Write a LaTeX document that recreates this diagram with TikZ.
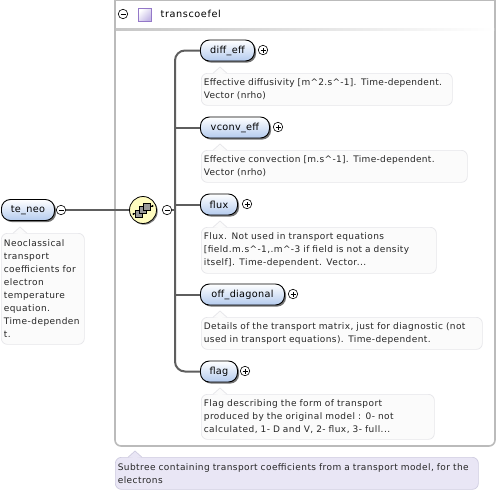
\documentclass[tikz,border=0pt]{standalone}
\usepackage{fontspec}
\setmainfont{DejaVu Sans}[LetterSpace=3]
\usetikzlibrary{shadows,calc}
\definecolor{docline}{HTML}{E6E6EA}
\definecolor{docfill}{HTML}{FBFBFB}
\definecolor{conn}{HTML}{5E5E5E}
\definecolor{frame}{HTML}{BBBBBB}
\definecolor{elemblue}{HTML}{B4CBEE}
\definecolor{purpledoc}{HTML}{E9E6F5}
\definecolor{purpleline}{HTML}{CFCCE0}
\definecolor{sqline}{HTML}{9478C8}
\definecolor{sqfill}{HTML}{C4B8E6}
\newcommand{\lsp}[1]{\addfontfeature{LetterSpace=#1}}
\tikzset{
  x=1pt,y=-1pt,
  elem/.style={draw=black,line width=.9pt,rounded corners=9pt,top color=white,bottom color=elemblue,
    minimum height=21pt,inner sep=0pt,anchor=west,font=\fontsize{9.7}{11}\selectfont,
    drop shadow={shadow xshift=1.6pt,shadow yshift=-1.6pt,fill=black,opacity=.55}},
  docbox/.style={draw=docline,line width=.7pt,fill=docfill,rounded corners=6pt,anchor=north west,
    inner xsep=2.5pt,inner ysep=3pt,align=left,text=black!85,
    font=\fontsize{9}{13}\selectfont},
  notch/.style={draw=docline,line width=.7pt,fill=docfill},
  connline/.style={draw=conn,line width=2pt},
  tog/.style={circle,draw=black,fill=white,line width=.6pt,minimum size=9.5pt,inner sep=0pt},
  bar/.style={draw=black,line width=.7pt},
  seqsq/.style={draw=black,line width=.6pt,fill=black!40,minimum size=7pt,inner sep=0pt},
}
\newcommand{\minusmark}[1]{\draw[bar] ([xshift=-2.5pt]#1.center) -- ([xshift=2.5pt]#1.center);}
\newcommand{\plusmark}[1]{\draw[bar] ([xshift=-2.5pt]#1.center) -- ([xshift=2.5pt]#1.center);\draw[bar] ([yshift=-2.5pt]#1.center) -- ([yshift=2.5pt]#1.center);}
\newcommand{\docnotch}[2]{\fill[docfill] ($(#1.north west)+(#2+7,0)$) -- ++(-7,0.8) -- ++(14,0) -- cycle;
  \draw[notch,fill=docfill] ($(#1.north west)+(#2,0.3)$) -- ++(7,-6.3) -- ++(7,6.3);}
\begin{document}
\begin{tikzpicture}
\useasboundingbox (0,0) rectangle (497,493);
\fill[white] (0,0) rectangle (497,493);
% frame
\draw[frame,line width=1.6pt,rounded corners=6pt] (115,-5) -- (115,446) -- (495,446) -- (495,-5);
\draw[frame,line width=1.6pt] (115,0.3) -- (495,0.3);
\shade[left color=black!22,right color=white] (116,28) rectangle (494,30.5);
\node[tog] (tcm) at (123,14) {};
\minusmark{tcm}
\node[draw=sqline,line width=.8pt,left color=white,right color=sqfill,shading angle=45,minimum size=12.5pt,inner sep=0pt,anchor=north west] (tcs) at (138,8) {};
\node[anchor=west,inner sep=0pt,font=\fontsize{9.7}{11}\selectfont] (tct) at (160.5,14) {\lsp{6}transcoefel};
% nodes
\node[elem,minimum width=53pt] (teneo) at (1,210) {te\_neo};
\node[tog] (tenm) at (61,210) {};
\minusmark{tenm}
\node[circle,draw=black,line width=.8pt,fill=yellow!25!white,minimum size=27pt,inner sep=0pt,drop shadow={shadow xshift=1.2pt,shadow yshift=-1.2pt,fill=black,opacity=.5}] (seq) at (143,210) {};
\node[tog] (seqm) at (167,210) {};
\minusmark{seqm}
\coordinate (tt) at (175,210);
\node[elem,minimum width=54pt] (diff) at (200,50.5) {diff\_eff};
\node[elem,minimum width=69pt] (vconv) at (200,127.5) {vconv\_eff};
\node[elem,minimum width=37pt] (flux) at (200,204.5) {flux};
\node[elem,minimum width=84pt] (off) at (200,294.5) {off\_diagonal};
\node[elem,minimum width=37pt] (flag) at (200,371.5) {flag};
\node[tog] (dp) at (263,50) {}; \plusmark{dp}
\node[tog] (vp) at (278,127) {}; \plusmark{vp}
\node[tog] (fp) at (247,204) {}; \plusmark{fp}
\node[tog] (op) at (293,294) {}; \plusmark{op}
\node[tog] (gp) at (245,371) {}; \plusmark{gp}
% connectors
\draw[connline] (tenm) -- (seq);
\draw[connline] (seqm) -- (tt);
\draw[connline,rounded corners=10pt] (diff.west) -| (tt) |- (flag.west);
\draw[connline] (vconv.west) -- (vconv.west -| tt);
\draw[connline] (flux.west) -- (flux.west -| tt);
\draw[connline] (off.west) -- (off.west -| tt);
% sequence icon
\begin{scope}[shift={(seq.center)}]
  \draw[black,line width=.8pt] (-9.5,4) -- (9.5,-4);
  \fill[black] (-9.5,4) circle (1.2) (9.5,-4) circle (1.2);
  \node[seqsq] (sa) at (-4,4) {};
  \node[seqsq] (sb) at (-0.5,0) {};
  \node[seqsq] (sc) at (3.5,-3.5) {};
\end{scope}
% docs
\node[docbox,text width=78pt,minimum height=111pt] (d0) at (1,233) {\lsp{5}Neoclassical\\transport\\coefficients for\\electron\\temperature\\equation.\\Time-dependen\\t.};
\docnotch{d0}{12}
\node[docbox,text width=246pt,minimum height=32pt] (d1) at (201,73) {\lsp{3.2}Effective diffusivity [m\textasciicircum 2.s\textasciicircum -1]. Time-dependent.\\Vector (nrho)};
\docnotch{d1}{12}
\node[docbox,text width=261pt,minimum height=32pt] (d2) at (201,150) {\lsp{3.6}Effective convection [m.s\textasciicircum -1]. Time-dependent.\\Vector (nrho)};
\docnotch{d2}{12}
\node[docbox,text width=230pt,minimum height=46pt] (d3) at (201,227) {\lsp{4.5}Flux. Not used in transport equations\\{}[field.m.s\textasciicircum -1,.m\textasciicircum -3 if field is not a density\\itself]. Time-dependent. Vector...};
\docnotch{d3}{12}
\node[docbox,text width=276pt,minimum height=32pt] (d4) at (201,317) {\lsp{4.4}Details of the transport matrix, just for diagnostic (not\\used in transport equations). Time-dependent.};
\docnotch{d4}{12}
\node[docbox,text width=228pt,minimum height=45pt] (d5) at (201,394) {\lsp{5}Flag describing the form of transport\\produced by the original model : 0- not\\calculated, 1- D and V, 2- flux, 3- full...};
\docnotch{d5}{12}
\tikzset{docbox/.append style={fill=purpledoc,draw=purpleline},notch/.append style={draw=purpleline}}
\colorlet{docfill}{purpledoc}
\node[docbox,text width=358pt,minimum height=32pt] (d6) at (115,457) {\lsp{4.7}Subtree containing transport coefficients from a transport model, for the\\electrons};
\docnotch{d6}{13}
\end{tikzpicture}
\end{document}
